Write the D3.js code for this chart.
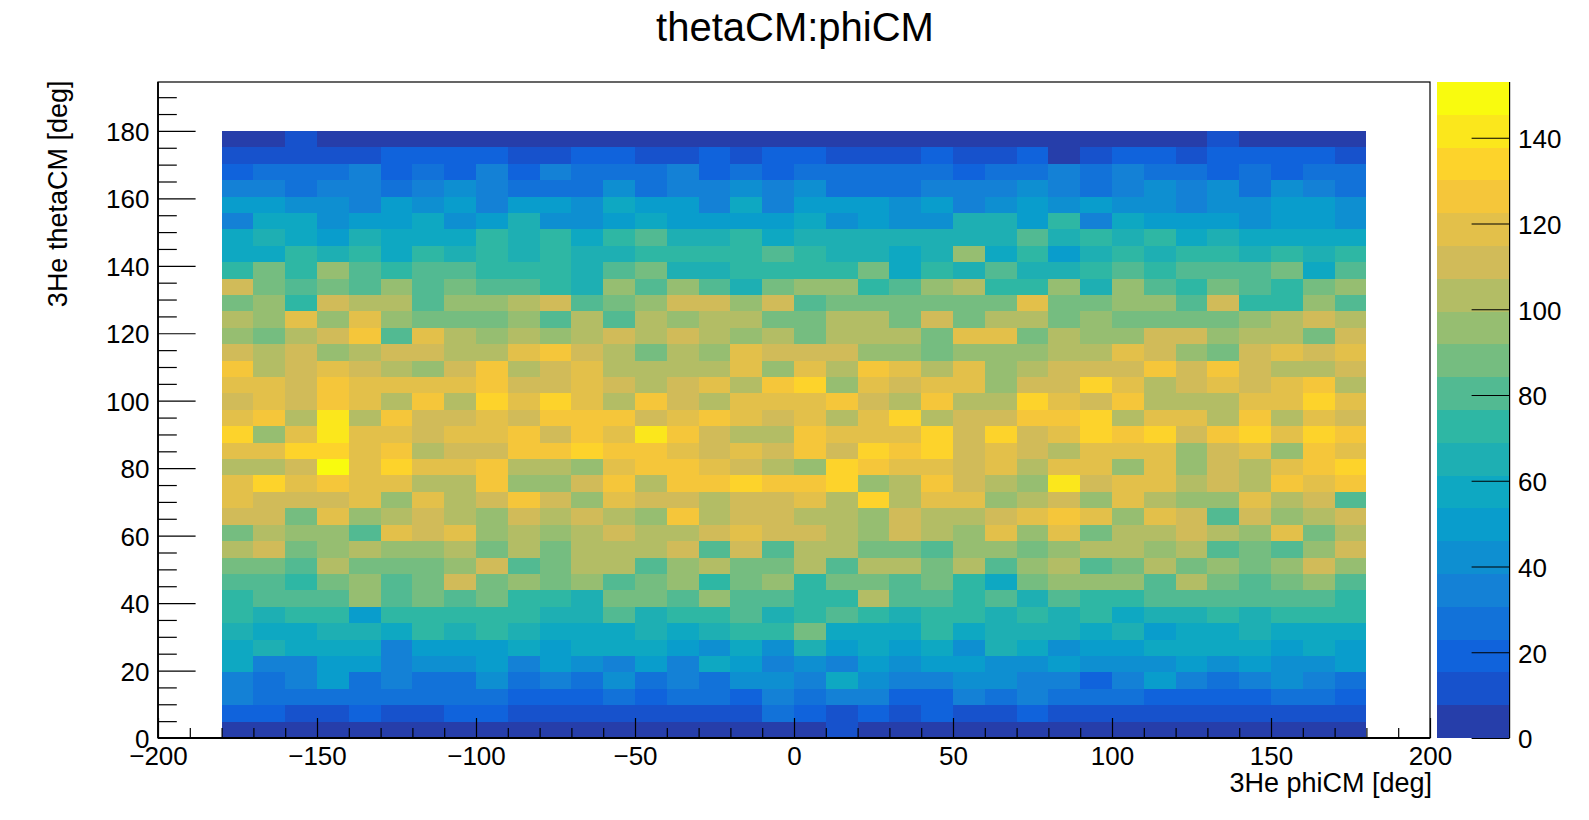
<!DOCTYPE html>
<html>
<head>
<meta charset="utf-8">
<title>thetaCM:phiCM</title>
<script src="https://cdn.jsdelivr.net/npm/d3@7"></script>
<style>
html,body{margin:0;padding:0;background:#fff;overflow:hidden}
svg{display:block}
text{font-family:"Liberation Sans",Arial,sans-serif;fill:#000}
.domain{display:none}
.tick line{stroke:#000;stroke-width:1.2}
</style>
</head>
<body>
<svg id="c" width="1589" height="820"></svg>
<script>
const titleText = "thetaCM:phiCM";
const xTitle = "3He phiCM [deg]";
const yTitle = "3He thetaCM [deg]";
const xDomain = [-200, 200];
const yDomain = [0, 194.5];
const zDomain = [0, 153];
const phiRange = [-180, 180];
const thetaRange = [0, 180];
const xMajor = [-200, -150, -100, -50, 0, 50, 100, 150, 200];
const yMajor = [0, 20, 40, 60, 80, 100, 120, 140, 160, 180];
const zMajor = [0, 20, 40, 60, 80, 100, 120, 140];
const contourCount = 20;
const birdRed = [0.2082, 0.0592, 0.0780, 0.0232, 0.1802, 0.5301, 0.8186, 0.9956, 0.9764];
const birdGreen = [0.1664, 0.3599, 0.5041, 0.6419, 0.7178, 0.7492, 0.7328, 0.7862, 0.9832];
const birdBlue = [0.5293, 0.8684, 0.8385, 0.7914, 0.6425, 0.4662, 0.3499, 0.1968, 0.0539];

// counts per bin, first row = highest theta bin, columns = phi from -180 upward
const counts = [
[4,4,11,4,4,4,4,4,4,4,4,4,4,4,4,4,4,4,4,4,4,4,4,4,4,4,4,4,4,4,4,11,4,4,4,4],
[11,11,11,11,11,19,19,19,19,11,11,19,19,11,11,19,11,19,19,11,11,11,19,11,11,19,4,11,19,19,11,19,19,19,19,11],
[19,27,27,27,34,19,27,19,34,19,34,27,27,27,34,19,27,19,27,27,27,27,27,19,27,27,34,27,34,27,27,19,27,19,27,27],
[34,34,27,34,34,27,34,42,34,27,27,27,42,27,34,34,42,34,42,27,27,27,34,34,34,42,34,27,34,42,34,42,27,42,34,27],
[50,50,42,42,34,50,42,50,34,50,50,42,57,50,50,34,57,34,50,50,50,42,50,34,42,50,42,50,42,42,34,42,42,50,50,42],
[34,57,57,42,50,50,57,42,50,65,42,42,50,57,50,50,50,50,57,42,50,42,42,65,65,50,73,34,57,50,50,50,42,50,50,42],
[57,65,57,50,65,57,57,57,73,65,73,57,73,80,65,65,73,57,65,65,65,65,65,65,65,80,65,73,65,73,57,65,57,57,57,57],
[57,57,73,65,73,57,73,65,73,65,73,65,65,73,73,73,73,80,73,65,65,57,65,96,57,73,50,65,73,65,73,73,65,73,65,73],
[73,88,73,96,80,73,80,80,73,73,73,65,80,88,65,65,73,73,73,73,88,57,73,65,80,65,65,73,80,73,80,80,80,88,57,80],
[111,88,80,88,80,96,80,88,80,80,73,65,96,80,96,80,65,88,96,96,73,80,96,103,73,73,96,65,96,80,73,88,80,73,88,96],
[88,96,73,111,103,103,80,96,96,103,111,80,88,96,111,111,96,111,80,88,88,88,88,88,88,119,88,88,96,96,80,111,73,73,96,80],
[103,96,119,96,119,96,88,88,88,96,80,103,80,103,96,103,103,88,88,103,103,88,111,88,103,103,88,96,88,88,88,88,96,103,111,103],
[96,88,103,111,126,80,119,103,96,103,96,103,111,103,111,103,96,103,88,103,103,103,88,119,119,88,103,96,96,111,111,96,103,103,88,111],
[111,103,111,96,103,111,111,103,103,119,126,111,103,88,103,96,119,111,111,111,96,96,88,96,96,96,103,103,119,111,96,88,111,119,111,119],
[126,103,111,119,111,103,96,111,126,103,111,119,103,103,103,103,119,96,119,103,126,119,103,119,96,103,111,111,111,126,111,126,111,103,103,111],
[119,119,111,126,119,119,119,119,126,111,111,119,111,103,111,119,103,126,134,96,119,111,119,119,96,111,111,134,119,103,111,119,111,119,126,103],
[111,119,111,126,119,103,126,103,134,119,134,119,103,126,111,103,119,119,119,126,111,103,126,103,103,134,119,111,126,103,103,103,119,119,134,119],
[119,126,103,142,103,126,111,111,119,111,126,126,126,111,119,126,119,111,119,103,119,134,103,111,111,126,126,134,103,119,119,103,126,103,119,111],
[134,96,119,142,119,119,111,119,119,126,111,126,119,142,126,111,103,103,126,119,119,119,134,111,134,111,119,134,126,134,111,126,134,119,134,126],
[119,119,134,134,119,126,103,111,111,126,126,134,126,126,119,111,119,111,126,111,134,126,134,111,119,111,103,119,119,119,96,111,119,96,126,119],
[103,103,111,149,119,134,119,119,126,103,103,96,119,126,126,119,111,103,96,134,126,119,119,111,119,103,119,119,96,119,96,111,103,119,126,134],
[119,134,119,126,119,119,103,103,126,96,96,111,126,103,126,126,134,126,126,134,96,103,126,111,103,96,142,111,119,119,103,111,103,126,119,126],
[119,111,111,111,119,96,119,103,111,126,111,96,119,111,111,103,111,111,119,103,134,103,119,119,96,103,111,96,119,103,96,96,119,103,111,80],
[111,111,88,119,96,103,111,103,96,111,103,111,103,96,126,103,111,111,103,103,96,111,103,103,111,119,126,119,96,119,111,80,111,96,103,111],
[88,103,96,96,80,119,111,119,96,103,96,103,111,103,103,111,119,111,111,103,96,111,103,96,119,96,119,88,103,103,111,103,96,119,88,103],
[103,111,88,96,103,96,96,103,88,103,88,103,103,103,111,80,111,80,103,103,88,88,80,96,96,88,96,103,103,96,103,80,88,80,96,111],
[88,88,80,103,88,88,88,96,111,80,88,103,103,80,96,103,88,88,103,80,103,103,88,103,80,96,103,80,88,103,88,96,88,96,111,96],
[80,80,73,88,96,80,88,111,88,96,88,96,80,88,96,73,88,96,73,88,88,80,88,73,57,88,96,96,96,80,103,88,80,88,96,80],
[73,80,80,80,96,80,88,80,88,73,73,65,88,88,80,96,80,80,73,73,103,80,80,73,80,65,80,73,73,80,80,80,80,80,80,73],
[73,65,73,73,50,73,73,73,73,73,65,65,80,65,73,73,80,65,73,80,73,65,73,73,65,73,65,73,57,65,65,73,65,73,73,73],
[65,57,57,65,65,57,73,65,73,65,57,57,57,65,57,65,73,73,88,57,57,57,73,57,65,65,65,57,65,50,57,57,65,57,57,57],
[57,65,57,57,57,34,50,50,50,57,50,57,57,57,50,42,57,42,65,50,57,50,57,42,65,57,42,50,50,57,57,57,57,50,57,50],
[57,34,34,50,50,34,42,42,50,34,50,42,34,50,34,57,50,34,42,34,50,42,50,50,42,42,50,42,42,42,50,42,50,42,42,50],
[34,27,34,50,27,34,27,27,42,27,34,27,42,27,34,27,42,42,34,57,42,34,34,42,42,34,34,19,34,50,34,27,34,42,34,27],
[34,27,27,27,27,27,27,27,27,19,19,19,27,19,27,27,19,34,27,34,34,19,19,34,27,34,27,27,27,19,19,19,19,27,27,19],
[19,19,11,11,19,11,11,19,19,11,11,11,11,11,11,11,11,27,19,11,19,11,19,11,11,19,11,11,11,11,11,11,11,11,11,11],
[4,4,4,4,4,4,4,4,4,4,4,4,4,4,4,4,4,4,4,11,4,4,4,4,4,4,4,4,4,4,4,4,4,4,4,4]
];

const W = 1589, H = 820;
const frame = {l: 158.0, r: 1430.0, t: 82, b: 738};
const svg = d3.select("#c");

const x = d3.scaleLinear().domain(xDomain).range([frame.l, frame.r]);
const y = d3.scaleLinear().domain(yDomain).range([frame.b, frame.t]);
const z = d3.scaleLinear().domain(zDomain).range([frame.b, frame.t]);

const nRows = counts.length, nCols = counts[0].length;
const phiEdge = d3.scaleLinear().domain([0, nCols]).range(phiRange);
const thetaEdge = d3.scaleLinear().domain([0, nRows]).range([thetaRange[1], thetaRange[0]]);

const stopPos = d3.range(birdRed.length).map(i => i / (birdRed.length - 1));
const bird = d3.scaleLinear().domain(stopPos)
  .range(stopPos.map((_, i) => d3.rgb(birdRed[i] * 255, birdGreen[i] * 255, birdBlue[i] * 255)));
const levelOf = v => Math.min(contourCount - 1, Math.floor(v / zDomain[1] * contourCount));
const levelColor = k => bird((k + 1) / contourCount);

// cells
const cells = [];
counts.forEach((row, r) => row.forEach((v, c) => cells.push({r, c, v})));
svg.append("g").attr("shape-rendering", "crispEdges")
  .selectAll("rect").data(cells).join("rect")
  .attr("x", d => x(phiEdge(d.c)))
  .attr("y", d => y(thetaEdge(d.r)))
  .attr("width", d => x(phiEdge(d.c + 1)) - x(phiEdge(d.c)))
  .attr("height", d => y(thetaEdge(d.r + 1)) - y(thetaEdge(d.r)))
  .attr("fill", d => levelColor(levelOf(d.v)));

// palette
const pal = {l: 1437.2, r: 1509.6};
svg.append("g").attr("shape-rendering", "crispEdges")
  .selectAll("rect").data(d3.range(contourCount)).join("rect")
  .attr("x", pal.l).attr("width", pal.r - pal.l)
  .attr("y", k => z((k + 1) * zDomain[1] / contourCount))
  .attr("height", k => z(k * zDomain[1] / contourCount) - z((k + 1) * zDomain[1] / contourCount))
  .attr("fill", levelColor);

// frame
svg.append("rect").attr("x", frame.l).attr("y", frame.t)
  .attr("width", frame.r - frame.l).attr("height", frame.b - frame.t)
  .attr("fill", "none").attr("stroke", "#000").attr("stroke-width", 1.2);
svg.append("line").attr("x1", frame.l).attr("x2", frame.r).attr("y1", frame.b).attr("y2", frame.b)
  .attr("stroke", "#000").attr("stroke-width", 1.8);
svg.append("line").attr("x1", frame.l).attr("x2", frame.l).attr("y1", frame.t).attr("y2", frame.b)
  .attr("stroke", "#000").attr("stroke-width", 1.8);
svg.append("line").attr("x1", pal.r).attr("x2", pal.r).attr("y1", frame.t).attr("y2", frame.b)
  .attr("stroke", "#000").attr("stroke-width", 1.2);

const fmt = d3.format("d");
const labelSize = 26;

// x axis
const xMinor = d3.range(xDomain[0], xDomain[1] + 1, 10).filter(v => !xMajor.includes(v));
svg.append("g").attr("transform", `translate(0,${frame.b})`)
  .call(d3.axisBottom(x).tickValues(xMinor).tickSize(-10).tickFormat(""));
const gx = svg.append("g").attr("transform", `translate(0,${frame.b})`)
  .call(d3.axisBottom(x).tickValues(xMajor).tickSize(-20).tickPadding(8.5).tickFormat(fmt));
gx.selectAll("text").attr("font-size", labelSize).attr("font-family", null);

// y axis
const yMinor = d3.range(0, yDomain[1], 5).filter(v => !yMajor.includes(v));
svg.append("g").attr("transform", `translate(${frame.l},0)`)
  .call(d3.axisLeft(y).tickValues(yMinor).tickSize(-18.8).tickFormat(""));
const gy = svg.append("g").attr("transform", `translate(${frame.l},0)`)
  .call(d3.axisLeft(y).tickValues(yMajor).tickSize(-37.6).tickPadding(8.5).tickFormat(fmt));
gy.selectAll("text").attr("font-size", labelSize).attr("font-family", null).attr("dy", "0.37em");

// z axis
const gz = svg.append("g").attr("transform", `translate(${pal.r},0)`)
  .call(d3.axisRight(z).tickValues(zMajor).tickSize(-38).tickPadding(8.5).tickFormat(fmt));
gz.selectAll("text").attr("font-size", labelSize).attr("font-family", null).attr("dy", "0.38em");

// titles
svg.append("text").attr("x", 795).attr("y", 41).attr("text-anchor", "middle")
  .attr("font-size", 40).text(titleText);
svg.append("text").attr("x", frame.r + 2).attr("y", 792).attr("text-anchor", "end")
  .attr("font-size", 27).text(xTitle);
svg.append("text").attr("transform", `translate(67,${frame.t - 1.5}) rotate(-90)`).attr("text-anchor", "end")
  .attr("font-size", 27).text(yTitle);
</script>
</body>
</html>
